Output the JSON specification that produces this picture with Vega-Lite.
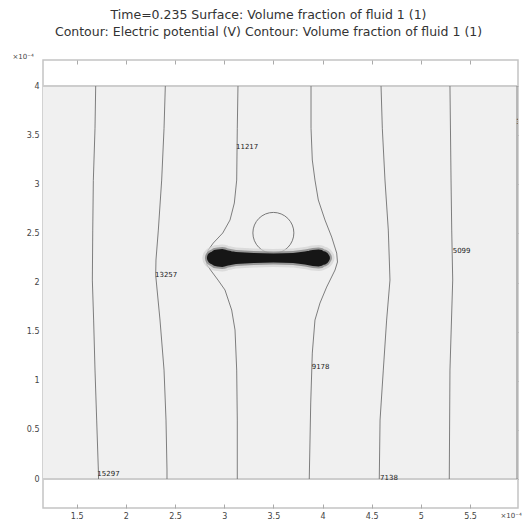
{
  "$schema": "https://vega.github.io/schema/vega-lite/v6.json",
  "width": 475,
  "height": 448,
  "autosize": "none",
  "padding": {"left": 43, "top": 60, "right": 5, "bottom": 13},
  "background": "white",
  "config": {"view": {"stroke": "#c4c4c4", "strokeWidth": 1.5}, "font": "DejaVu Sans"},
  "title": {
    "text": ["Time=0.235  Surface: Volume fraction of fluid 1 (1)", "Contour: Electric potential (V) Contour: Volume fraction of fluid 1 (1)"],
    "anchor": "middle",
    "frame": "group",
    "fontSize": 12.5,
    "fontWeight": "normal",
    "color": "#333333",
    "offset": 14,
    "lineHeight": 17,
    "dx": -12
  },
  "datasets": {
    "region": [{"x": 1.157, "x2": 5.988, "y": 0, "y2": 4}],
    "bounds": [{"y": 0}, {"y": 4}],
    "contours": [
      {"c": "15297", "x": 1.693, "y": 4}, {"c": "15297", "x": 1.686, "y": 3.57}, {"c": "15297", "x": 1.669, "y": 3.04}, {"c": "15297", "x": 1.663, "y": 2.534}, {"c": "15297", "x": 1.659, "y": 2.025}, {"c": "15297", "x": 1.672, "y": 1.618}, {"c": "15297", "x": 1.686, "y": 1.109}, {"c": "15297", "x": 1.703, "y": 0.6}, {"c": "15297", "x": 1.72, "y": 0.092}, {"c": "15297", "x": 1.722, "y": 0},
      {"c": "13257", "x": 2.401, "y": 4}, {"c": "13257", "x": 2.388, "y": 3.57}, {"c": "13257", "x": 2.364, "y": 3.043}, {"c": "13257", "x": 2.33, "y": 2.534}, {"c": "13257", "x": 2.306, "y": 2.229}, {"c": "13257", "x": 2.303, "y": 2.076}, {"c": "13257", "x": 2.347, "y": 1.618}, {"c": "13257", "x": 2.388, "y": 1.109}, {"c": "13257", "x": 2.408, "y": 0.6}, {"c": "13257", "x": 2.418, "y": 0.092}, {"c": "13257", "x": 2.418, "y": 0},
      {"c": "11217", "x": 3.14, "y": 4}, {"c": "11217", "x": 3.133, "y": 3.57}, {"c": "11217", "x": 3.127, "y": 3.043}, {"c": "11217", "x": 3.103, "y": 2.809}, {"c": "11217", "x": 3.059, "y": 2.636}, {"c": "11217", "x": 2.985, "y": 2.504}, {"c": "11217", "x": 2.889, "y": 2.402}, {"c": "11217", "x": 2.838, "y": 2.331}, {"c": "11217", "x": 2.815, "y": 2.249}, {"c": "11217", "x": 2.825, "y": 2.178}, {"c": "11217", "x": 2.876, "y": 2.107}, {"c": "11217", "x": 2.937, "y": 2.025}, {"c": "11217", "x": 3.008, "y": 1.924}, {"c": "11217", "x": 3.076, "y": 1.72}, {"c": "11217", "x": 3.11, "y": 1.517}, {"c": "11217", "x": 3.127, "y": 1.109}, {"c": "11217", "x": 3.133, "y": 0.6}, {"c": "11217", "x": 3.133, "y": 0},
      {"c": "9178", "x": 3.883, "y": 4}, {"c": "9178", "x": 3.883, "y": 3.57}, {"c": "9178", "x": 3.896, "y": 3.247}, {"c": "9178", "x": 3.923, "y": 3.043}, {"c": "9178", "x": 3.957, "y": 2.84}, {"c": "9178", "x": 4.025, "y": 2.636}, {"c": "9178", "x": 4.093, "y": 2.463}, {"c": "9178", "x": 4.144, "y": 2.3}, {"c": "9178", "x": 4.152, "y": 2.209}, {"c": "9178", "x": 4.127, "y": 2.127}, {"c": "9178", "x": 4.042, "y": 1.954}, {"c": "9178", "x": 3.974, "y": 1.791}, {"c": "9178", "x": 3.923, "y": 1.618}, {"c": "9178", "x": 3.896, "y": 1.282}, {"c": "9178", "x": 3.88, "y": 0.774}, {"c": "9178", "x": 3.865, "y": 0},
      {"c": "7138", "x": 4.595, "y": 4}, {"c": "7138", "x": 4.608, "y": 3.57}, {"c": "7138", "x": 4.635, "y": 3.043}, {"c": "7138", "x": 4.669, "y": 2.534}, {"c": "7138", "x": 4.686, "y": 2.025}, {"c": "7138", "x": 4.652, "y": 1.618}, {"c": "7138", "x": 4.618, "y": 1.109}, {"c": "7138", "x": 4.585, "y": 0.6}, {"c": "7138", "x": 4.577, "y": 0},
      {"c": "5099", "x": 5.296, "y": 4}, {"c": "5099", "x": 5.307, "y": 3.043}, {"c": "5099", "x": 5.314, "y": 2.534}, {"c": "5099", "x": 5.324, "y": 2.025}, {"c": "5099", "x": 5.296, "y": 1.109}, {"c": "5099", "x": 5.289, "y": 0},
      {"c": "3059", "x": 5.978, "y": 4}, {"c": "3059", "x": 5.978, "y": 0}
    ],
    "circle": [{"x": 3.5, "y": 2.505}],
    "blob": [
      {"x": 2.86, "y": 2.25, "w": 6}, {"x": 2.89, "y": 2.25, "w": 13}, {"x": 2.93, "y": 2.25, "w": 17}, {"x": 2.98, "y": 2.25, "w": 18}, {"x": 3.04, "y": 2.25, "w": 15}, {"x": 3.12, "y": 2.25, "w": 12}, {"x": 3.3, "y": 2.25, "w": 10}, {"x": 3.5, "y": 2.25, "w": 9}, {"x": 3.7, "y": 2.25, "w": 10}, {"x": 3.82, "y": 2.25, "w": 13}, {"x": 3.9, "y": 2.25, "w": 16}, {"x": 3.96, "y": 2.25, "w": 17}, {"x": 4.0, "y": 2.25, "w": 14}, {"x": 4.03, "y": 2.25, "w": 9}, {"x": 4.05, "y": 2.25, "w": 5}
    ],
    "labels": [
      {"x": 1.71, "y": 0.05, "t": "15297"},
      {"x": 2.296, "y": 2.076, "t": "13257"},
      {"x": 3.12, "y": 3.384, "t": "11217"},
      {"x": 3.89, "y": 1.143, "t": "9178"},
      {"x": 4.585, "y": 0.01, "t": "7138"},
      {"x": 5.324, "y": 2.32, "t": "5099"},
      {"x": 5.97, "y": 3.634, "t": "3059"}
    ]
  },
  "layer": [
    {
      "data": {"name": "region"},
      "mark": {"type": "rect", "fill": "#f0f0f0"},
      "encoding": {
        "x": {"field": "x", "type": "quantitative", "scale": {"domain": [1.157, 5.988], "nice": false, "zero": false},
          "axis": {"orient": "bottom", "values": [1.5, 2, 2.5, 3, 3.5, 4, 4.5, 5, 5.5], "format": "~g", "domain": false, "grid": false, "tickSize": -4, "tickColor": "#aaaaaa", "labelFontSize": 8, "labelColor": "#444444", "labelPadding": 8, "title": "×10⁻⁴", "titleAngle": 0, "titleX": 457, "titleY": 9, "titleAlign": "left", "titleBaseline": "alphabetic", "titleFontSize": 7, "titleFontWeight": "normal", "titleColor": "#444444"}},
        "x2": {"field": "x2"},
        "y": {"field": "y", "type": "quantitative", "scale": {"domain": [-0.295, 4.265], "nice": false, "zero": false},
          "axis": {"orient": "left", "values": [0, 0.5, 1, 1.5, 2, 2.5, 3, 3.5, 4], "format": "~g", "domain": false, "grid": false, "tickSize": -4, "tickColor": "#aaaaaa", "labelFontSize": 8, "labelColor": "#444444", "labelPadding": 8, "title": "×10⁻⁴", "titleAngle": 0, "titleX": -31, "titleY": -2, "titleAlign": "left", "titleBaseline": "alphabetic", "titleFontSize": 7, "titleFontWeight": "normal", "titleColor": "#444444"}},
        "y2": {"field": "y2"}
      }
    },
    {
      "data": {"name": "bounds"},
      "mark": {"type": "rule", "stroke": "#cdcdcd", "strokeWidth": 2},
      "encoding": {
        "y": {"field": "y", "type": "quantitative", "scale": {"domain": [-0.295, 4.265], "nice": false, "zero": false}, "axis": null}
      }
    },
    {
      "data": {"name": "contours"},
      "mark": {"type": "line", "stroke": "#707070", "strokeWidth": 0.9, "clip": true},
      "encoding": {
        "x": {"field": "x", "type": "quantitative", "scale": {"domain": [1.157, 5.988], "nice": false, "zero": false}, "axis": null},
        "y": {"field": "y", "type": "quantitative", "scale": {"domain": [-0.295, 4.265], "nice": false, "zero": false}, "axis": null},
        "detail": {"field": "c"},
        "order": {"field": "y", "type": "quantitative"}
      }
    },
    {
      "data": {"name": "circle"},
      "mark": {"type": "point", "shape": "circle", "size": 1680, "filled": false, "stroke": "#6a6a6a", "strokeWidth": 0.9, "opacity": 1},
      "encoding": {
        "x": {"field": "x", "type": "quantitative", "scale": {"domain": [1.157, 5.988], "nice": false, "zero": false}, "axis": null},
        "y": {"field": "y", "type": "quantitative", "scale": {"domain": [-0.295, 4.265], "nice": false, "zero": false}, "axis": null}
      }
    },
    {
      "data": {"name": "blob"},
      "transform": [{"calculate": "datum.w + 9", "as": "w2"}],
      "mark": {"type": "trail", "color": "#d2d2d2", "opacity": 0.7},
      "encoding": {
        "x": {"field": "x", "type": "quantitative", "scale": {"domain": [1.157, 5.988], "nice": false, "zero": false}, "axis": null},
        "y": {"field": "y", "type": "quantitative", "scale": {"domain": [-0.295, 4.265], "nice": false, "zero": false}, "axis": null},
        "size": {"field": "w2", "type": "quantitative", "scale": null, "legend": null}
      }
    },
    {
      "data": {"name": "blob"},
      "transform": [{"calculate": "datum.w + 4", "as": "w2"}],
      "mark": {"type": "trail", "color": "#7a7a7a", "opacity": 0.7},
      "encoding": {
        "x": {"field": "x", "type": "quantitative", "scale": {"domain": [1.157, 5.988], "nice": false, "zero": false}, "axis": null},
        "y": {"field": "y", "type": "quantitative", "scale": {"domain": [-0.295, 4.265], "nice": false, "zero": false}, "axis": null},
        "size": {"field": "w2", "type": "quantitative", "scale": null, "legend": null}
      }
    },
    {
      "data": {"name": "blob"},
      "mark": {"type": "trail", "color": "#161616"},
      "encoding": {
        "x": {"field": "x", "type": "quantitative", "scale": {"domain": [1.157, 5.988], "nice": false, "zero": false}, "axis": null},
        "y": {"field": "y", "type": "quantitative", "scale": {"domain": [-0.295, 4.265], "nice": false, "zero": false}, "axis": null},
        "size": {"field": "w", "type": "quantitative", "scale": null, "legend": null}
      }
    },
    {
      "data": {"name": "labels"},
      "mark": {"type": "text", "align": "left", "baseline": "middle", "fontSize": 7, "fill": "#222222", "clip": true},
      "encoding": {
        "x": {"field": "x", "type": "quantitative", "scale": {"domain": [1.157, 5.988], "nice": false, "zero": false},
          "axis": {"orient": "top", "values": [1.5, 2, 2.5, 3, 3.5, 4, 4.5, 5, 5.5], "labels": false, "domain": false, "grid": false, "tickSize": -4, "tickColor": "#aaaaaa", "title": null}},
        "y": {"field": "y", "type": "quantitative", "scale": {"domain": [-0.295, 4.265], "nice": false, "zero": false},
          "axis": {"orient": "right", "values": [0, 0.5, 1, 1.5, 2, 2.5, 3, 3.5, 4], "labels": false, "domain": false, "grid": false, "tickSize": -4, "tickColor": "#aaaaaa", "title": null}},
        "text": {"field": "t"}
      }
    }
  ],
  "resolve": {"axis": {"x": "independent", "y": "independent"}}
}
